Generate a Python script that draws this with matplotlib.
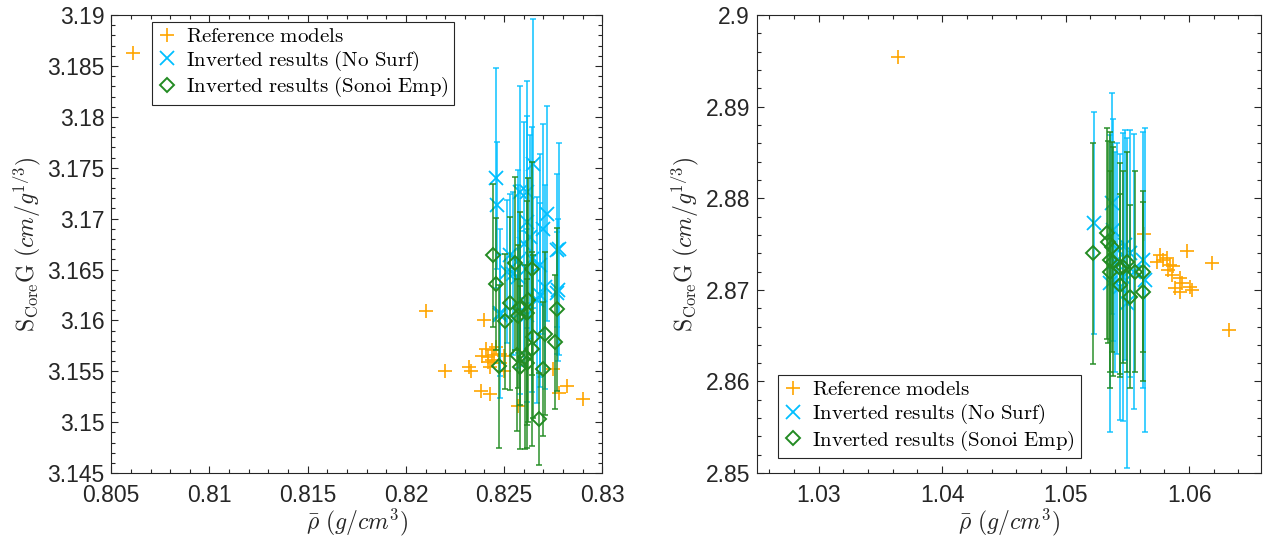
import matplotlib
matplotlib.use('Agg')
import matplotlib.pyplot as plt
from matplotlib.ticker import MultipleLocator, FuncFormatter

plt.rcParams['font.family'] = ['Liberation Sans', 'DejaVu Sans']
plt.rcParams['mathtext.fontset'] = 'cm'

# ---- left panel data ----
ref_rho_l = [0.8061, 0.8210, 0.8240, 0.8220, 0.8232, 0.8233, 0.8238, 0.8243, 0.8241,
             0.8244, 0.8246, 0.8239, 0.8242, 0.8245, 0.8248, 0.8250, 0.8242, 0.8244,
             0.8243, 0.8248, 0.8250, 0.8257, 0.8275, 0.8278, 0.8282, 0.8290]
ref_s_l = [3.1863, 3.1609, 3.1600, 3.1550, 3.1554, 3.1550, 3.1531, 3.1528, 3.1572,
           3.1571, 3.1574, 3.1565, 3.1564, 3.1566, 3.1567, 3.1565, 3.1559, 3.1561,
           3.1554, 3.1558, 3.1550, 3.1516, 3.1552, 3.1529, 3.1536, 3.1523]

nosurf_rho_l = [0.82459, 0.82465, 0.82581, 0.82615, 0.82649, 0.82717, 0.82700, 0.82780,
                0.82615, 0.82632, 0.82530, 0.82572, 0.82683, 0.82708, 0.82776, 0.82683,
                0.82572, 0.82479, 0.82513, 0.82768, 0.82479, 0.82581, 0.82615, 0.82666,
                0.82547, 0.82768, 0.82600, 0.82640]
nosurf_s_l = [3.1740, 3.1713, 3.1726, 3.1726, 3.1754, 3.1705, 3.1690, 3.1670,
              3.1697, 3.1682, 3.1664, 3.1658, 3.1654, 3.1633, 3.1630, 3.1625,
              3.1643, 3.1607, 3.1648, 3.1627, 3.1605, 3.1608, 3.1605, 3.1620,
              3.1646, 3.1669, 3.1675, 3.1660]
nosurf_err_l = [0.0108, 0.0062, 0.0104, 0.0109, 0.0142, 0.0106, 0.0103, 0.0104,
                0.0104, 0.0100, 0.0060, 0.0090, 0.0110, 0.0100, 0.0070, 0.0090,
                0.0090, 0.0083, 0.0070, 0.0060, 0.0060, 0.0080, 0.0085, 0.0101,
                0.0080, 0.0075, 0.0120, 0.0130]

sonoi_rho_l = [0.82445, 0.82459, 0.82530, 0.82505, 0.82581, 0.82615, 0.82641, 0.82556,
               0.82564, 0.82581, 0.82606, 0.82641, 0.82708, 0.82759, 0.82768, 0.82700,
               0.82476, 0.82679, 0.82615, 0.82649, 0.82572, 0.82620]
sonoi_s_l = [3.1664, 3.1636, 3.1617, 3.1599, 3.1612, 3.1607, 3.1651, 3.1656,
             3.1566, 3.1554, 3.1564, 3.1572, 3.1587, 3.1579, 3.1611, 3.1552,
             3.1555, 3.1503, 3.1558, 3.1584, 3.1604, 3.1620]
sonoi_err_l = [0.0070, 0.0065, 0.0085, 0.0066, 0.0095, 0.0110, 0.0105, 0.0085,
               0.0075, 0.0080, 0.0090, 0.0095, 0.0080, 0.0066, 0.0080, 0.0066,
               0.0080, 0.0045, 0.0083, 0.0080, 0.0070, 0.0120]

# ---- right panel data ----
ref_rho_r = [1.03643, 1.05637, 1.05764, 1.05791, 1.05818, 1.05738, 1.05845, 1.05872,
             1.05832, 1.05859, 1.05926, 1.05940, 1.05886, 1.05926, 1.06007, 1.06021,
             1.05981, 1.06188, 1.06326]
ref_s_r = [2.89541, 2.87609, 2.87380, 2.87325, 2.87344, 2.87307, 2.87271, 2.87260,
           2.87216, 2.87162, 2.87126, 2.87071, 2.87016, 2.86980, 2.87034, 2.86998,
           2.87427, 2.87296, 2.86561]

nosurf_rho_r = [1.05233, 1.05373, 1.05386, 1.05360, 1.05481, 1.05467, 1.05495, 1.05629,
                1.05643, 1.05521, 1.05440, 1.05400, 1.05550, 1.05420]
nosurf_s_r = [2.87733, 2.87944, 2.87653, 2.87071, 2.87489, 2.87143, 2.86853, 2.87325,
              2.87107, 2.87398, 2.87034, 2.87300, 2.87200, 2.87450]
nosurf_err_r = [0.0121, 0.0121, 0.0121, 0.0162, 0.0126, 0.0157, 0.0180, 0.0140,
                0.0166, 0.0135, 0.0145, 0.0120, 0.0150, 0.0115]

sonoi_rho_r = [1.05219, 1.05333, 1.05360, 1.05386, 1.05360, 1.05440, 1.05467, 1.05562,
               1.05629, 1.05624, 1.05440, 1.05521, 1.05346, 1.05373, 1.05500]
sonoi_s_r = [2.87398, 2.87617, 2.87325, 2.87307, 2.87198, 2.87234, 2.87252, 2.87198,
             2.87198, 2.86980, 2.87052, 2.86925, 2.87525, 2.87470, 2.87300]
sonoi_err_r = [0.0121, 0.0115, 0.0140, 0.0125, 0.0110, 0.0115, 0.0105, 0.0110,
               0.0088, 0.0098, 0.0100, 0.0100, 0.0110, 0.0115, 0.0120]

labels = [r'$\mathrm{Reference\ models}$',
          r'$\mathrm{Inverted\ results\ (No\ Surf)}$',
          r'$\mathrm{Inverted\ results\ (Sonoi\ Emp)}$']

c_ref = '#FFA500'
c_nosurf = '#00BFFF'
c_sonoi = '#228B22'
dark = '#262626'


def draw_panel(ax, ref_x, ref_y, ns_x, ns_y, ns_e, so_x, so_y, so_e):
    h1, = ax.plot(ref_x, ref_y, '+', color=c_ref, ms=10.5, mew=1.2, zorder=2)
    h2 = ax.errorbar(ns_x, ns_y, yerr=ns_e, fmt='x', color=c_nosurf, ms=9.5, mew=1.3,
                     ecolor=c_nosurf, elinewidth=1.4, capsize=2.5, capthick=1.3, zorder=3)
    h3 = ax.errorbar(so_x, so_y, yerr=so_e, fmt='D', color=c_sonoi, mfc='none', ms=7, mew=1.4,
                     ecolor=c_sonoi, elinewidth=1.4, capsize=2.5, capthick=1.3, zorder=4)
    for bars in (h2[2], h3[2]):
        for b in bars:
            b.set_alpha(0.75)
    for caps in (h2[1], h3[1]):
        for c in caps:
            c.set_alpha(0.75)
    fmt = FuncFormatter(lambda v, p: '%g' % round(v, 6))
    ax.xaxis.set_major_formatter(fmt)
    ax.yaxis.set_major_formatter(fmt)
    ax.tick_params(which='both', direction='in', top=True, right=True, colors=dark,
                   labelsize=16.5, width=0.8)
    ax.tick_params(which='major', length=5)
    ax.tick_params(axis='x', which='major', pad=8)
    ax.tick_params(axis='y', which='major', pad=5)
    ax.tick_params(which='minor', length=3)
    for s in ax.spines.values():
        s.set_color(dark)
        s.set_linewidth(0.8)
    ax.set_xlabel(r'$\bar{\rho}\ (g/cm^3)$', fontsize=17, color=dark, labelpad=0)
    ax.set_ylabel(r'$\mathrm{S_{Core}G}\ (cm/g^{1/3})$', fontsize=17, color=dark, labelpad=3)
    return [h1, h2[0], h3[0]]


fig = plt.figure(figsize=(12.72, 5.4), dpi=100)
ax1 = fig.add_axes([0.0875, 0.124, 0.386, 0.848])
ax2 = fig.add_axes([0.5951, 0.124, 0.396, 0.848])

hs = draw_panel(ax1, ref_rho_l, ref_s_l, nosurf_rho_l, nosurf_s_l, nosurf_err_l,
                sonoi_rho_l, sonoi_s_l, sonoi_err_l)
ax1.set_xlim(0.805, 0.83)
ax1.set_ylim(3.145, 3.19)
ax1.xaxis.set_major_locator(MultipleLocator(0.005))
ax1.xaxis.set_minor_locator(MultipleLocator(0.001))
ax1.yaxis.set_major_locator(MultipleLocator(0.005))
ax1.yaxis.set_minor_locator(MultipleLocator(0.001))
leg1 = ax1.legend(hs, labels, loc='upper left', bbox_to_anchor=(0.083, 0.985),
                  borderaxespad=0, fontsize=15, fancybox=False, framealpha=1,
                  edgecolor=dark, handlelength=0.9, handletextpad=0.5,
                  labelspacing=0.12, borderpad=0.25)
leg1.get_frame().set_linewidth(0.8)

hs = draw_panel(ax2, ref_rho_r, ref_s_r, nosurf_rho_r, nosurf_s_r, nosurf_err_r,
                sonoi_rho_r, sonoi_s_r, sonoi_err_r)
ax2.set_xlim(1.025, 1.0658)
ax2.set_ylim(2.85, 2.9)
ax2.xaxis.set_major_locator(MultipleLocator(0.01))
ax2.xaxis.set_minor_locator(MultipleLocator(0.002))
ax2.yaxis.set_major_locator(MultipleLocator(0.01))
ax2.yaxis.set_minor_locator(MultipleLocator(0.002))
leg2 = ax2.legend(hs, labels, loc='lower left', bbox_to_anchor=(0.042, 0.033),
                  borderaxespad=0, fontsize=15, fancybox=False, framealpha=1,
                  edgecolor=dark, handlelength=0.9, handletextpad=0.5,
                  labelspacing=0.12, borderpad=0.25)
leg2.get_frame().set_linewidth(0.8)

fig.savefig('out.png', dpi=100)
